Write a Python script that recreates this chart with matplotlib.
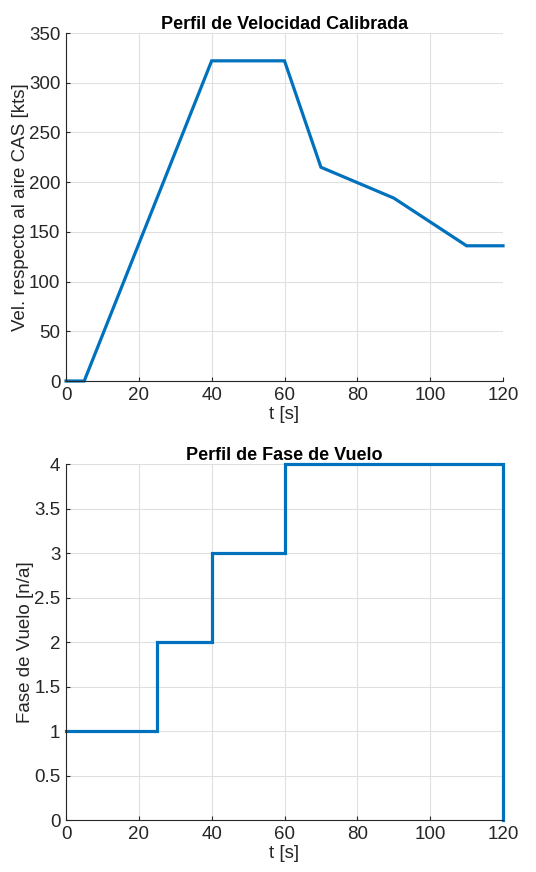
import numpy as np
import matplotlib
matplotlib.use("Agg")
import matplotlib.pyplot as plt

# velocity profile (CAS)
t_cas = [0, 5, 40, 60, 70, 90, 110, 120]
v_cas = [0, 0, 322, 322, 215, 184, 136, 136]

# flight phase profile
t_fase = [0, 25, 25, 40, 40, 60, 60, 120, 120]
fase = [1, 1, 2, 2, 3, 3, 4, 4, 0]

xticks = [0, 20, 40, 60, 80, 100, 120]
yticks_cas = [0, 50, 100, 150, 200, 250, 300, 350]
yticks_fase = [0, 0.5, 1, 1.5, 2, 2.5, 3, 3.5, 4]

plt.rcParams['font.family'] = ['Liberation Sans', 'DejaVu Sans']
plt.rcParams['font.size'] = 13

W, H = 536, 872
fig = plt.figure(figsize=(W/100., H/100.), dpi=100)
fig.patch.set_facecolor('white')

lc = '#0072BD'
axc = '#262626'

def style(ax):
    ax.grid(True, color='#e0e0e0', linewidth=0.8)
    ax.set_axisbelow(True)
    for s in ['top', 'right']:
        ax.spines[s].set_visible(False)
    for s in ['left', 'bottom']:
        ax.spines[s].set_color(axc)
        ax.spines[s].set_linewidth(0.8)
    ax.tick_params(direction='in', length=3, colors=axc, labelsize=13.5, width=0.8, pad=4)
    ax.set_xlim(0, 120)
    ax.set_xticks(xticks)

def pos(l, t, r, b):
    return [l/W, 1-b/H, (r-l)/W, (b-t)/H]

ax1 = fig.add_axes(pos(66, 33, 503, 381))
ax1.plot(t_cas, v_cas, color=lc, linewidth=2.3, clip_on=False, solid_joinstyle='miter')
style(ax1)
ax1.set_ylim(0, 350)
ax1.set_yticks(yticks_cas)
ax1.set_title('Perfil de Velocidad Calibrada', fontsize=13, fontweight='bold', color='black', pad=3)
ax1.set_xlabel('t [s]', fontsize=13.5, color=axc, labelpad=2)
ax1.set_ylabel('Vel. respecto al aire CAS [kts]', fontsize=13.5, color=axc, labelpad=0)

ax2 = fig.add_axes(pos(66, 464, 503, 820))
ax2.plot(t_fase, fase, color=lc, linewidth=2.3, clip_on=False, solid_joinstyle='miter')
style(ax2)
ax2.set_ylim(0, 4)
ax2.set_yticks(yticks_fase)
ax2.set_yticklabels(['0', '0.5', '1', '1.5', '2', '2.5', '3', '3.5', '4'])
ax2.set_title('Perfil de Fase de Vuelo', fontsize=13, fontweight='bold', color='black', pad=3)
ax2.set_xlabel('t [s]', fontsize=13.5, color=axc, labelpad=2)
ax2.set_ylabel('Fase de Vuelo [n/a]', fontsize=13.5, color=axc, labelpad=0)

plt.savefig('out.png', dpi=100)
